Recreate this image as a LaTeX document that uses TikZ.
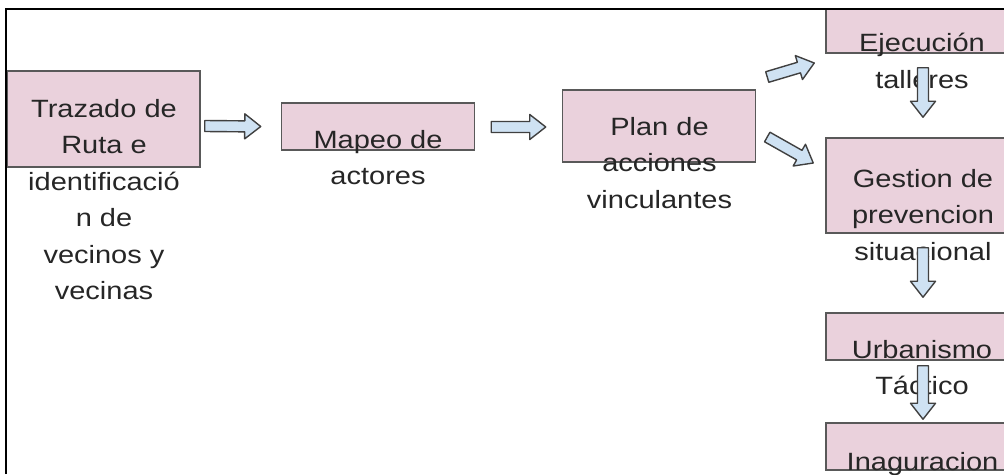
\documentclass[tikz,border=0pt]{standalone}
\usepackage{fontspec}
\newfontfamily\boxfont[FakeStretch=1.16]{Liberation Sans}
\usetikzlibrary{calc}

\definecolor{boxpink}{HTML}{EAD1DC}
\definecolor{arrowblue}{HTML}{CFE2F3}
\definecolor{edgegray}{HTML}{595959}
\definecolor{textgray}{HTML}{262626}

% block arrow between two points
\newcommand{\blockarrow}[2]{%
    \coordinate (ba_s) at (#1);
    \coordinate (ba_e) at (#2);
    \coordinate (ba_h) at ($(ba_e)!16pt!(ba_s)$);
    \filldraw[arrowshape] ($(ba_s)!5.5pt!90:(ba_e)$) -- ($(ba_h)!5.5pt!-90:(ba_s)$) -- ($(ba_h)!12.5pt!-90:(ba_s)$) -- (ba_e)
        -- ($(ba_h)!12.5pt!90:(ba_s)$) -- ($(ba_h)!5.5pt!90:(ba_s)$) -- ($(ba_s)!5.5pt!-90:(ba_e)$) -- cycle;
}

\begin{document}
\begin{tikzpicture}[x=1pt, y=-1pt,
        pinkbox/.style={rectangle, draw=edgegray, fill=boxpink, line width=1.5pt, minimum width=193pt},
        boxtext/.style={anchor=north, align=center, inner sep=0pt, text=textgray, font=\boxfont\fontsize{25}{36.5}\selectfont},
        arrowshape/.style={draw=black!75, fill=arrowblue, line width=1.4pt, line join=round},
    ]
    \useasboundingbox (0,0) rectangle (1004,474);
    \begin{scope}
        \clip (6,9) rectangle (1004,474);

        %Nodes
        \node[pinkbox, minimum height=96pt] (trazado) at (103.5,119) {};
        \node[pinkbox, minimum height=47pt] (mapeo) at (378,126.5) {};
        \node[pinkbox, minimum height=72pt] (plan) at (659,126) {};

        \node[pinkbox, minimum height=47pt] (ejecucion) at (922.5,29.5) {};
        \node[pinkbox, minimum height=95pt] (gestion) at (922.5,185.5) {};
        \node[pinkbox, minimum height=47pt] (urbanismo) at (922.5,336.5) {};
        \node[pinkbox, minimum height=47pt] (inaguracion) at (922.5,446.5) {};

        \node[boxtext] (trazado_t) at (104,99) {Trazado de\\Ruta e\\identificació\\n de\\vecinos y\\vecinas};
        \node[boxtext] (mapeo_t) at (378,130) {Mapeo de\\actores};
        \node[boxtext] (plan_t) at (659.5,117) {Plan de\\acciones\\vinculantes};
        \node[boxtext] (ejecucion_t) at (922,33) {Ejecución\\talleres};
        \node[boxtext] (gestion_t) at (923,169) {Gestion de\\prevencion\\situacional};
        \node[boxtext] (urbanismo_t) at (922,340) {Urbanismo\\Táctico};
        \node[boxtext] (inaguracion_t) at (922.5,452) {Inaguracion};

        %Lines
        \blockarrow{$(trazado.east)+(4,7)$}{$(mapeo.west)+(-20,0)$}
        \blockarrow{$(mapeo.east)+(16,0.5)$}{$(plan.west)+(-16,1)$}
        \blockarrow{$(plan.east)+(11,-49)$}{$(ejecucion.west)+(-11,33.5)$}
        \blockarrow{$(plan.east)+(11,11)$}{$(gestion.west)+(-12,-22.5)$}

        \blockarrow{$(ejecucion.south)+(0.5,14)$}{$(gestion.north)+(0.5,-20)$}
        \blockarrow{$(gestion.south)+(0.5,14)$}{$(urbanismo.north)+(0.5,-15)$}
        \blockarrow{$(urbanismo.south)+(0.5,5)$}{$(inaguracion.north)+(0.5,-3)$}
    \end{scope}

    % frame
    \draw[line width=2pt] (6,474) -- (6,9) -- (1004,9);
\end{tikzpicture}
\end{document}
